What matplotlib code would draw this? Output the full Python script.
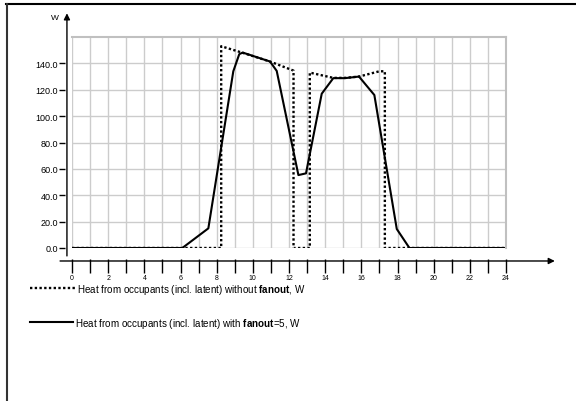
import matplotlib
matplotlib.use('Agg')
import matplotlib.pyplot as plt
from matplotlib.lines import Line2D
import numpy as np

plt.rcParams['font.family'] = ['Liberation Sans', 'DejaVu Sans']
plt.rcParams['mathtext.fontset'] = 'custom'
plt.rcParams['mathtext.rm'] = 'Liberation Sans'
plt.rcParams['mathtext.bf'] = 'Liberation Sans:bold'

# heat from occupants, without fanout (hours, W)
hours_no_fan = [0, 8.25, 8.25, 9.44, 10.95, 12.25, 12.25, 13.15, 13.15,
                14.45, 15.1, 15.87, 17.0, 17.3, 17.3, 24]
heat_no_fan = [0, 0, 153, 148, 141.4, 134.5, 0, 0, 133,
               129, 129, 130, 134, 134, 0, 0]

# heat from occupants, with fanout=5
hours_fan = [0, 6.1, 7.54, 8.92, 9.25, 9.44, 10.95, 11.32, 12.52, 12.94,
             13.81, 14.45, 15.1, 15.87, 16.72, 17.96, 18.66, 24]
heat_fan = [0, 0, 14.9, 134, 147, 148.2, 141.4, 134.3, 55.3, 56.6,
            117, 128.8, 128.8, 130, 116, 14.4, 0, 0]

yticks = np.arange(0, 141, 20)
xticks_major = np.arange(0, 25, 2)
xticks_minor = np.arange(1, 24, 2)

W, H = 576, 402
fig = plt.figure(figsize=(W / 100, H / 100), dpi=100)
ax = fig.add_axes([72 / W, 1 - 249 / H, 434 / W, 211 / H])

dots = (0, (1, 1))
ax.plot(hours_no_fan, heat_no_fan, color='black', lw=1.7, ls=dots)
ax.plot(hours_fan, heat_fan, color='black', lw=1.5)

ax.set_xlim(0, 24)
ax.set_ylim(0, 160)
ax.set_xticks(xticks_major)
ax.set_xticks(xticks_minor, minor=True)
ax.set_yticks(yticks)
ax.set_yticklabels(['%.1f' % v for v in yticks])
ax.grid(True, which='both', color='#cccccc', lw=1)
ax.set_axisbelow(True)

for s in ['top', 'right']:
    ax.spines[s].set_color('#c0c0c0')
    ax.spines[s].set_linewidth(1.5)
ax.spines['left'].set_position(('outward', 5))
ax.spines['bottom'].set_position(('outward', 13))
ax.spines['left'].set_visible(False)
ax.spines['bottom'].set_visible(False)

ax.tick_params(axis='y', direction='out', length=4, width=1, pad=1,
               labelsize=6.5, colors='black')
ax.tick_params(axis='x', which='both', direction='inout', length=10, width=1,
               pad=0.5, labelsize=5)

# axis lines with arrows
ax.annotate('', xy=(-0.28, 178), xytext=(-0.28, -6), annotation_clip=False,
            arrowprops=dict(arrowstyle='-|>', color='black', lw=1,
                            mutation_scale=9, shrinkA=0, shrinkB=0))
ax.annotate('', xy=(26.7, -9.85), xytext=(-0.66, -9.85), annotation_clip=False,
            arrowprops=dict(arrowstyle='-|>', color='black', lw=1,
                            mutation_scale=9, shrinkA=0, shrinkB=0))
ax.text(-0.75, 175, 'W', fontsize=6, ha='right', va='center', clip_on=False)

# legend
fig.add_artist(Line2D([30 / W, 75 / W], [1 - 289 / H] * 2, color='black',
                      lw=1.7, ls=dots))
fig.add_artist(Line2D([30 / W, 73 / W], [1 - 323 / H] * 2, color='black', lw=1.5))
fig.text(77 / W, 1 - 290 / H,
         r'Heat from occupants (incl. latent) without $\mathbf{fanout}$, W',
         fontsize=7.1, va='center')
fig.text(75 / W, 1 - 324 / H,
         r'Heat from occupants (incl. latent) with $\mathbf{fanout}$=5, W',
         fontsize=7.1, va='center')

# outer frame lines (top and left)
fig.add_artist(Line2D([6 / W, 1], [1 - 5 / H] * 2, color='black', lw=1.5))
fig.add_artist(Line2D([6.5 / W] * 2, [0, 1 - 5 / H], color='#333333', lw=1.5))

fig.savefig('out.png', dpi=100)
